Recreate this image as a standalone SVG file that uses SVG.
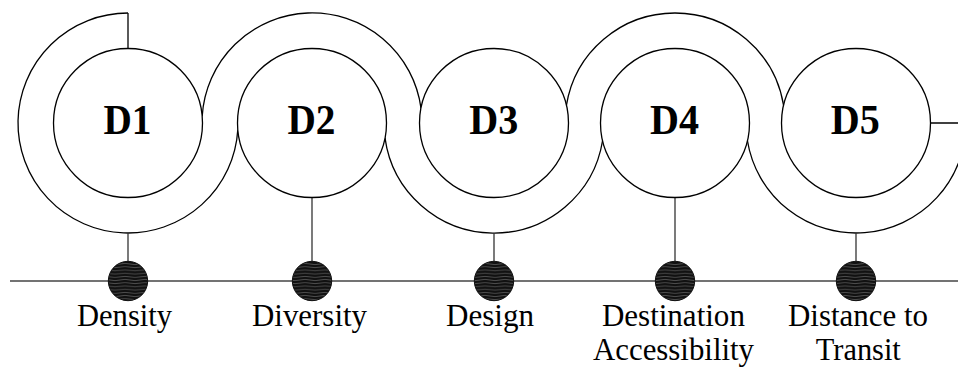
<svg xmlns="http://www.w3.org/2000/svg" width="958" height="367" viewBox="0 0 958 367">
  <style>
    .band { fill: none; stroke: #000; stroke-width: 1.3; }
    .ring { fill: #fff; stroke: #000; stroke-width: 1.3; }
    .stem { stroke: #333; stroke-width: 1.3; fill: none; }
    .axis { stroke: #444; stroke-width: 1.5; fill: none; }
    .dot { fill: url(#wavy); stroke: #111; stroke-width: 1; }
    .title { font-family: "Liberation Serif", "Times New Roman", serif; font-weight: bold; font-size: 43px; fill: #000; text-anchor: middle; }
    .label { font-family: "Liberation Serif", "Times New Roman", serif; font-size: 31px; fill: #000; text-anchor: middle; }
  </style>
  <defs>
    <!-- dark marble fill for the milestone dots -->
    <pattern id="wavy" patternUnits="userSpaceOnUse" width="20" height="3.2">
      <rect width="20" height="3.2" fill="#111"/>
      <path d="M0 1.6 Q5 0.6 10 1.6 T20 1.6" fill="none" stroke="#7a7a7a" stroke-width="0.6"/>
    </pattern>
  </defs>

  <!-- baseline axis -->
  <line class="axis" x1="10" y1="281" x2="958" y2="281"/>

  <g id="connectors">
    <!-- winding band linking the five rings -->
    <path class="band" d="M128 13 A110 110 0 1 0 237.8 129.7"/>
    <path class="band" d="M202.2 116.3 A110 110 0 0 1 421 108.1"/>
    <path class="band" d="M385 137.9 A110 110 0 0 0 602.6 140.5"/>
    <path class="band" d="M566.4 105.5 A110 110 0 0 1 783.6 105.5"/>
    <path class="band" d="M747.4 140.5 A110 110 0 0 0 966 123"/>
    <line class="band" x1="930.5" y1="123" x2="966" y2="123"/>
    <line class="band" x1="128" y1="13" x2="128" y2="48.5"/>
    <!-- stems down to the axis -->
    <line class="stem" x1="128" y1="233" x2="128" y2="281"/>
    <line class="stem" x1="312" y1="197.5" x2="312" y2="281"/>
    <line class="stem" x1="494" y1="233" x2="494" y2="281"/>
    <line class="stem" x1="675" y1="197.5" x2="675" y2="281"/>
    <line class="stem" x1="856" y1="233" x2="856" y2="281"/>
  </g>

  <g id="d1">
    <circle class="ring" cx="128" cy="123" r="74.5"/>
    <text class="title" x="127.5" y="134" textLength="48" lengthAdjust="spacingAndGlyphs">D1</text>
    <circle class="dot" cx="128" cy="281" r="19.7"/>
    <text class="label" x="124.5" y="326" textLength="95" lengthAdjust="spacingAndGlyphs">Density</text>
  </g>

  <g id="d2">
    <circle class="ring" cx="312" cy="123" r="74.5"/>
    <text class="title" x="311.5" y="134" textLength="48" lengthAdjust="spacingAndGlyphs">D2</text>
    <circle class="dot" cx="312" cy="281" r="19.7"/>
    <text class="label" x="309.5" y="326" textLength="115" lengthAdjust="spacingAndGlyphs">Diversity</text>
  </g>

  <g id="d3">
    <circle class="ring" cx="494" cy="123" r="74.5"/>
    <text class="title" x="493.8" y="134" textLength="49" lengthAdjust="spacingAndGlyphs">D3</text>
    <circle class="dot" cx="494" cy="281" r="19.7"/>
    <text class="label" x="490" y="326" textLength="88" lengthAdjust="spacingAndGlyphs">Design</text>
  </g>

  <g id="d4">
    <circle class="ring" cx="675" cy="123" r="74.5"/>
    <text class="title" x="674.5" y="134" textLength="49" lengthAdjust="spacingAndGlyphs">D4</text>
    <circle class="dot" cx="675" cy="281" r="19.7"/>
    <text class="label" x="673.4" y="325.5" textLength="143" lengthAdjust="spacingAndGlyphs">Destination</text>
    <text class="label" x="673.5" y="360" textLength="161" lengthAdjust="spacingAndGlyphs">Accessibility</text>
  </g>

  <g id="d5">
    <circle class="ring" cx="856" cy="123" r="74.5"/>
    <text class="title" x="855.3" y="134" textLength="49" lengthAdjust="spacingAndGlyphs">D5</text>
    <circle class="dot" cx="856" cy="281" r="19.7"/>
    <text class="label" x="858" y="325.5" textLength="140" lengthAdjust="spacingAndGlyphs">Distance to</text>
    <text class="label" x="858.3" y="360" textLength="85" lengthAdjust="spacingAndGlyphs">Transit</text>
  </g>
</svg>
